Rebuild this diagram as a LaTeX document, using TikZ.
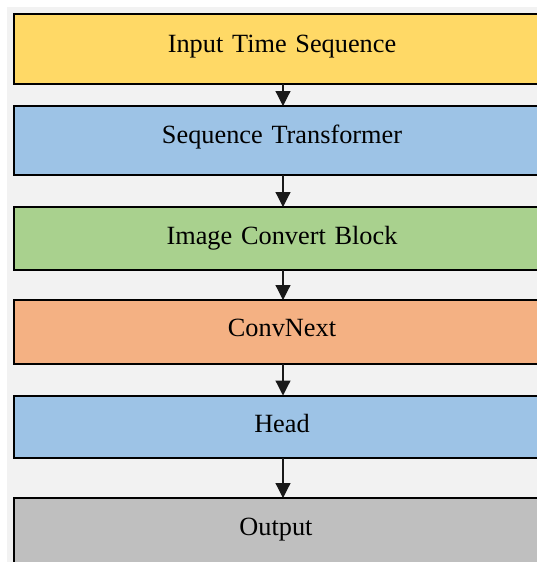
\documentclass[tikz,border=0pt]{standalone}
\usepackage{fontspec}
\setmainfont{Liberation Serif}
\usetikzlibrary{arrows.meta}
\definecolor{bgc}{HTML}{F2F2F2}
\definecolor{cyel}{HTML}{FFD966}
\definecolor{cblu}{HTML}{9DC3E6}
\definecolor{cgrn}{HTML}{A9D18E}
\definecolor{corg}{HTML}{F4B183}
\definecolor{cgry}{HTML}{BFBFBF}
\tikzset{
  blockbox/.style={draw=black, line width=2pt, inner sep=0pt, outer sep=0pt,
    anchor=north west, font=\fontsize{26.3}{30}\selectfont, text=black},
  arr/.style={draw=black!90, line width=1.2pt, -{Triangle[length=15pt,width=15pt]}}
}
\begin{document}
\begin{tikzpicture}[x=1pt,y=-1pt]
\clip (0,0) rectangle (537,562);
\fill[white] (0,0) rectangle (537,562);
\fill[bgc] (7,7) rectangle (537,562);
\node[blockbox, fill=cyel, text width=536pt, align=center, text height=38pt, text depth=32pt] (a) at (14,14) {Input Time Sequence};
\node[blockbox, fill=cblu, text width=536pt, align=center, text height=37pt, text depth=32pt] (b) at (14,106) {Sequence Transformer};
\node[blockbox, fill=cgrn, text width=536pt, align=center, text height=37pt, text depth=26pt] (c) at (14,207) {Image Convert Block};
\node[blockbox, fill=corg, text width=536pt, align=center, text height=36pt, text depth=27.5pt] (d) at (14,300) {ConvNext};
\node[blockbox, fill=cblu, text width=536pt, align=center, text height=36.5pt, text depth=25.5pt] (e) at (14,395.5) {Head};
\node[blockbox, fill=cgry, text width=524pt, align=center, text height=37pt, text depth=60pt] (f) at (14,498) {Output};
\coordinate (ax) at (283,0);
\draw[arr] (a.south -| ax) -- (b.north -| ax);
\draw[arr] (b.south -| ax) -- (c.north -| ax);
\draw[arr] (c.south -| ax) -- (d.north -| ax);
\draw[arr] (d.south -| ax) -- (e.north -| ax);
\draw[arr] (e.south -| ax) -- (f.north -| ax);
\end{tikzpicture}
\end{document}
